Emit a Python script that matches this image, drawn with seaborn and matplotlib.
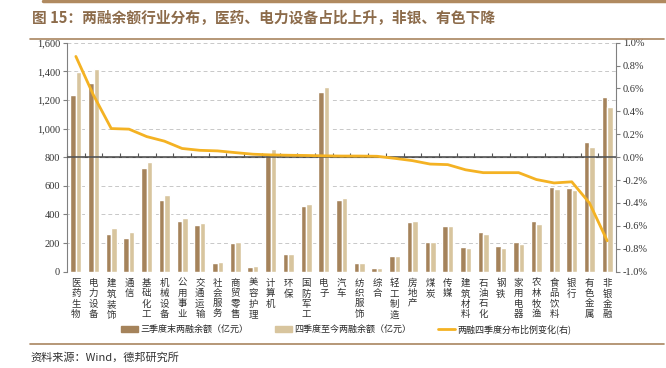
import numpy as np
import pandas as pd
import seaborn as sns
import matplotlib.pyplot as plt
from matplotlib.lines import Line2D
plt.switch_backend('Agg')

industries = ["医药生物", "电力设备", "建筑装饰", "通信", "基础化工", "机械设备", "公用事业",
              "交通运输", "社会服务", "商贸零售", "美容护理", "计算机", "环保", "国防军工",
              "电子", "汽车", "纺织服饰", "综合", "轻工制造", "房地产", "煤炭", "传媒",
              "建筑材料", "石油石化", "钢铁", "家用电器", "农林牧渔", "食品饮料", "银行",
              "有色金属", "非银金融"]
q3_balance = [1234, 1316, 261, 233, 722, 503, 354, 324, 61, 198, 33, 827, 121, 459,
              1258, 500, 58, 23, 109, 349, 207, 317, 175, 277, 179, 205, 354, 594, 587,
              904, 1220]
q4_balance = [1393, 1416, 303, 275, 766, 536, 373, 342, 70, 210, 37, 855, 126, 473,
              1292, 517, 58, 23, 109, 354, 207, 317, 163, 263, 168, 191, 333, 578, 571,
              873, 1150]
share_change = [0.88, 0.54, 0.25, 0.245, 0.18, 0.14, 0.076, 0.06, 0.055, 0.04, 0.026,
                0.02, 0.017, 0.015, 0.012, 0.01, 0.01, 0.008, -0.01, -0.03, -0.06,
                -0.065, -0.11, -0.135, -0.135, -0.135, -0.195, -0.225, -0.215, -0.40,
                -0.73]
left_ticks = [0, 200, 400, 600, 800, 1000, 1200, 1400, 1600]
right_ticks = [-1.0, -0.8, -0.6, -0.4, -0.2, 0.0, 0.2, 0.4, 0.6, 0.8, 1.0]
series_names = ["三季度末两融余额（亿元）", "四季度至今两融余额（亿元）"]
line_name = "两融四季度分布比例变化(右)"

df = pd.DataFrame({
    "industry": industries * 2,
    "value": q3_balance + q4_balance,
    "series": [series_names[0]] * len(industries) + [series_names[1]] * len(industries),
})

sns.set_style("white")
plt.rcParams['font.family'] = ['Noto Sans CJK SC', 'DejaVu Sans']

DARK = "#A5835B"
LIGHT = "#D8C59E"
GOLD = "#F4B223"
BROWN = "#8C6B4A"
SERIF = ["Liberation Serif", "DejaVu Serif"]

fig = plt.figure(figsize=(6.66, 3.68), dpi=100)
ax = fig.add_axes([0.1006, 0.2617, 0.8244, 0.6223])

sns.barplot(data=df, x="industry", y="value", hue="series", palette=[DARK, LIGHT],
            width=0.62, gap=0, saturation=1, ax=ax, legend=False)
ax.set_ylim(0, 1600)
ax.set_xlim(-0.5, len(industries) - 0.5)
ax.set_yticks(left_ticks)
ax.set_yticklabels([f"{v:,}" for v in left_ticks], fontfamily=SERIF, fontsize=7.5,
                   color="#333333")
ax.grid(axis="y", color="#C8C8C8", linestyle=(0, (4, 3)), linewidth=0.7)
ax.set_axisbelow(True)
ax.set_xlabel("")
ax.set_ylabel("")
for s in ["top", "right", "bottom"]:
    ax.spines[s].set_visible(False)
ax.spines["left"].set_color("#808080")
ax.tick_params(axis="y", left=True, length=3, color="#808080", pad=2)
ax.set_xticks(range(len(industries)))
ax.set_xticklabels(["\n".join(n) for n in industries], fontsize=6.8, color="#333333",
                   linespacing=1.2, va="top", rotation=0)
ax.tick_params(axis="x", bottom=False, length=0, pad=5)

# axis line at the 0% level, drawn over the bars
ax.axhline(800, color="#555555", linewidth=1.2, zorder=4)
mid = ax.secondary_xaxis(0.5)
mid.set_xticks(np.arange(len(industries) + 1) - 0.5)
mid.set_xticklabels([])
mid.tick_params(axis="x", length=3, direction="out", color="#555555", width=0.8)
mid.spines["bottom"].set_visible(False)

ax2 = ax.twinx()
sns.lineplot(x=np.arange(len(industries)), y=share_change, color=GOLD, linewidth=2,
             ax=ax2, sort=False)
ax2.set_ylim(-1.0, 1.0)
ax2.set_yticks(right_ticks)
ax2.set_yticklabels([f"{v:.1f}%" for v in right_ticks], fontfamily=SERIF, fontsize=7.5,
                    color="#333333")
for s in ["top", "left", "bottom"]:
    ax2.spines[s].set_visible(False)
ax2.spines["right"].set_color("#808080")
ax2.tick_params(axis="y", right=True, length=3, color="#808080", pad=2)
ax2.set_ylabel("")

handles = [plt.Rectangle((0, 0), 1, 1, color=DARK), plt.Rectangle((0, 0), 1, 1, color=LIGHT),
           Line2D([0], [0], color=GOLD, linewidth=2)]
fig.legend(handles, series_names + [line_name], loc="center", ncol=3, frameon=False,
           bbox_to_anchor=(0.52, 1 - 329 / 368), fontsize=6.5, handlelength=1.8,
           handleheight=0.6, handletextpad=0.3, columnspacing=3.0)

# title, rules and source
fig.add_artist(Line2D([0.065, 1.0], [0.997, 0.997], color="#B08A60", linewidth=2.5))
fig.text(0.048, 1 - 18 / 368, "图 15：两融余额行业分布，医药、电力设备占比上升，非银、有色下降",
         color=BROWN, fontsize=10.6, fontweight="bold", va="center", ha="left")
fig.add_artist(Line2D([0.045, 0.997], [1 - 39 / 368, 1 - 39 / 368], color="#A98560",
                      linewidth=1.2))
fig.add_artist(Line2D([0.045, 0.997], [1 - 344 / 368, 1 - 344 / 368], color="#A98560",
                      linewidth=1.2))
fig.text(0.045, 1 - 357 / 368, "资料来源：Wind，德邦研究所", fontsize=8, color="#333333",
         va="center", ha="left")

fig.savefig("out.png", dpi=100)
